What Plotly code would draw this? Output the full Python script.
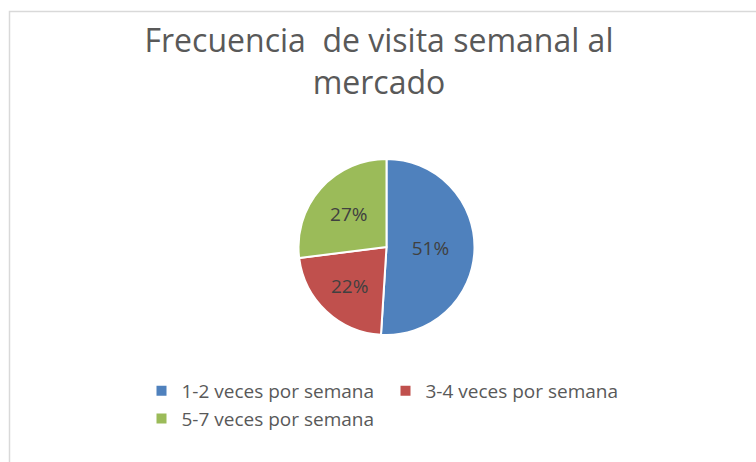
import plotly.graph_objects as go

categories = ["1-2 veces por semana", "3-4 veces por semana", "5-7 veces por semana"]
values = [51, 22, 27]
colors = ["#4F81BD", "#C0504D", "#9BBB59"]
title_text = "Frecuencia  de visita semanal al<br>mercado"

W, H = 756, 462
ML, MR = 100, 100
PW = W - ML - MR

def px_x(p):
    return (p - ML) / PW

def px_y(p):
    return 1 - p / H

fig = go.Figure(go.Pie(
    labels=categories,
    values=values,
    sort=False,
    direction="clockwise",
    rotation=0,
    marker=dict(colors=colors, line=dict(color="white", width=2)),
    textinfo="percent",
    textposition="inside",
    insidetextorientation="horizontal",
    textfont=dict(family="Open Sans", size=19, color="#404040"),
    domain=dict(x=[px_x(298), px_x(475)], y=[px_y(335), px_y(159)]),
    hoverinfo="label+percent",
))

fig.update_layout(
    width=W, height=H,
    margin=dict(l=ML, r=MR, t=0, b=0),
    paper_bgcolor="white",
    plot_bgcolor="white",
    title=dict(
        text=title_text,
        x=px_x(379), xanchor="center",
        y=px_y(52), yanchor="top",
        xref="paper", yref="container",
        font=dict(family="Open Sans", size=32, color="#595959"),
    ),
    legend=dict(
        orientation="h",
        x=px_x(141.5), xanchor="left",
        y=px_y(372), yanchor="top",
        entrywidth=199, entrywidthmode="pixels",
        font=dict(family="Open Sans", size=19, color="#595959"),
        bgcolor="rgba(0,0,0,0)",
    ),
    shapes=[dict(
        type="rect", xref="paper", yref="paper",
        x0=px_x(9.5), x1=px_x(770), y0=px_y(11.5), y1=px_y(480),
        line=dict(color="#D9D9D9", width=1.5), fillcolor="rgba(0,0,0,0)", layer="below",
    )],
)

fig.write_html("out.html", post_script="document.body.style.margin='0';",
               config={"displayModeBar": False})
